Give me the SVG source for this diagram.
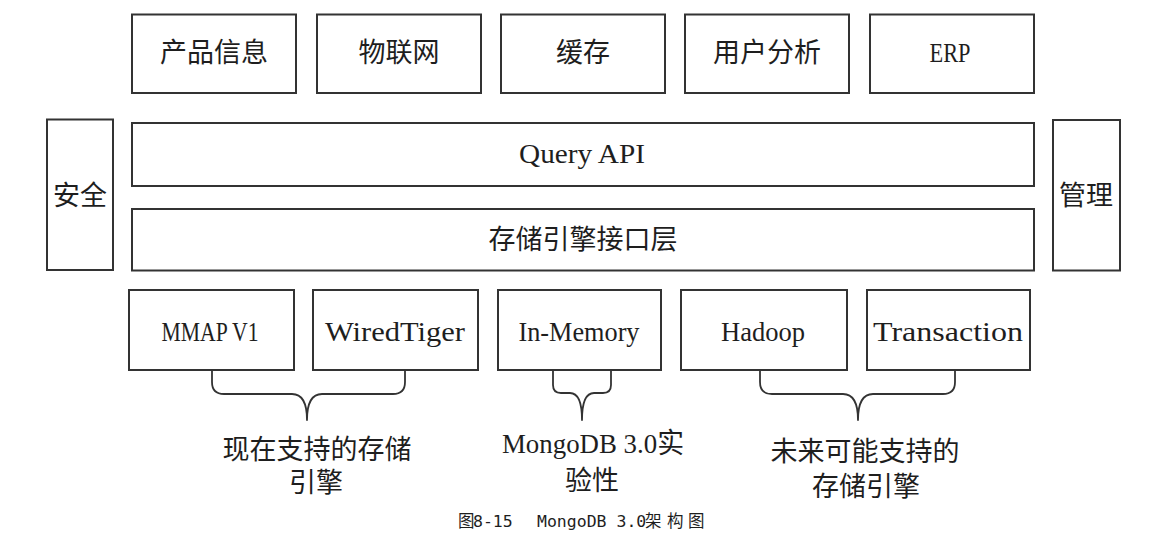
<svg xmlns="http://www.w3.org/2000/svg" width="1152" height="539" viewBox="0 0 1152 539">
<style>
.box{fill:#ffffff;stroke:#333333;stroke-width:2}
.brace{fill:none;stroke:#333333;stroke-width:1.8;stroke-linejoin:round}
.cjk{font-family:"Noto Sans CJK SC",sans-serif;font-size:27px;fill:#1e1e1e;text-anchor:middle}
.lat{font-family:"Liberation Serif","Noto Sans CJK SC",serif;font-size:28px;fill:#1e1e1e;text-anchor:middle}
.cap{font-family:"DejaVu Sans Mono","Noto Sans CJK SC",monospace;font-size:16.5px;fill:#1e1e1e}
</style>
<rect x="0" y="0" width="1152" height="539" fill="#ffffff"/>

<g id="app-product">
<rect class="box" x="132" y="14.5" width="164" height="78.5"/>
<text class="cjk" x="214" y="62">产品信息</text>
</g>
<g id="app-iot">
<rect class="box" x="317" y="14.5" width="164" height="78.5"/>
<text class="cjk" x="399" y="62">物联网</text>
</g>
<g id="app-cache">
<rect class="box" x="501" y="14.5" width="164" height="78.5"/>
<text class="cjk" x="583" y="62">缓存</text>
</g>
<g id="app-analytics">
<rect class="box" x="685" y="14.5" width="164" height="78.5"/>
<text class="cjk" x="767" y="62">用户分析</text>
</g>
<g id="app-erp">
<rect class="box" x="870" y="14.5" width="164" height="78.5"/>
<text class="lat" x="950" y="62" textLength="41" lengthAdjust="spacingAndGlyphs">ERP</text>
</g>

<g id="security">
<rect class="box" x="47" y="119.5" width="66" height="150.5"/>
<text class="cjk" x="80" y="205">安全</text>
</g>
<g id="management">
<rect class="box" x="1053" y="120" width="67" height="150.5"/>
<text class="cjk" x="1086" y="205">管理</text>
</g>

<g id="query-api">
<rect class="box" x="132" y="123" width="902" height="63"/>
<text class="lat" x="582" y="163" textLength="126" lengthAdjust="spacingAndGlyphs">Query API</text>
</g>
<g id="storage-engine-api">
<rect class="box" x="132" y="209" width="902" height="61.5"/>
<text class="cjk" x="583" y="249">存储引擎接口层</text>
</g>

<g id="engine-mmap">
<rect class="box" x="129" y="290" width="165" height="80"/>
<text class="lat" x="210" y="341" textLength="97" lengthAdjust="spacingAndGlyphs">MMAP V1</text>
</g>
<g id="engine-wiredtiger">
<rect class="box" x="313" y="290" width="165" height="80"/>
<text class="lat" x="395" y="341" textLength="140" lengthAdjust="spacingAndGlyphs">WiredTiger</text>
</g>
<g id="engine-inmemory">
<rect class="box" x="498" y="290" width="163" height="80"/>
<text class="lat" x="579" y="341" textLength="121" lengthAdjust="spacingAndGlyphs">In-Memory</text>
</g>
<g id="engine-hadoop">
<rect class="box" x="681" y="290" width="166" height="80"/>
<text class="lat" x="763" y="341" textLength="84" lengthAdjust="spacingAndGlyphs">Hadoop</text>
</g>
<g id="engine-transaction">
<rect class="box" x="867" y="290" width="163" height="80"/>
<text class="lat" x="948" y="341" textLength="150" lengthAdjust="spacingAndGlyphs">Transaction</text>
</g>

<g id="connectors">
<path class="brace" d="M212,370 V382 Q212,394 224,394 H292 Q307,394 307,420 Q307,394 322,394 H393 Q405,394 405,382 V370"/>
<path class="brace" d="M553,370 V385 Q553,393 561,393 H570 Q582,393 582,420 Q582,393 594,393 H603 Q611,393 611,385 V370"/>
<path class="brace" d="M760,370 V382 Q760,394 772,394 H843 Q858,394 858,420 Q858,394 873,394 H943 Q955,394 955,382 V370"/>
</g>

<g id="label-current">
<text class="cjk"><tspan x="317" y="459">现在支持的存储</tspan><tspan x="316" y="492">引擎</tspan></text>
</g>
<g id="label-experimental">
<text class="cjk"><tspan class="lat" x="593" y="453" textLength="182" lengthAdjust="spacingAndGlyphs">MongoDB 3.0实</tspan><tspan x="592" y="490">验性</tspan></text>
</g>
<g id="label-future">
<text class="cjk"><tspan x="865" y="461">未来可能支持的</tspan><tspan x="866" y="496">存储引擎</tspan></text>
</g>

<g id="caption">
<text class="cap" y="527"><tspan x="458">图</tspan><tspan x="473">8-15</tspan><tspan x="537">MongoDB 3.0</tspan><tspan x="645">架</tspan><tspan x="667">构</tspan><tspan x="688">图</tspan></text>
</g>
</svg>
